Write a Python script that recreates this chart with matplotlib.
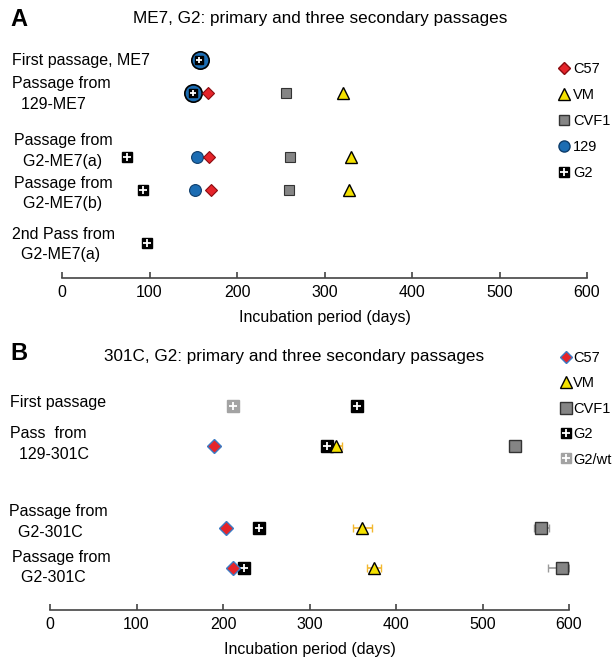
import numpy as np
import matplotlib
matplotlib.use("Agg")
import matplotlib.pyplot as plt
from matplotlib.lines import Line2D
from matplotlib.transforms import blended_transform_factory

plt.rcParams["font.family"] = ["Liberation Sans", "DejaVu Sans"]

nan = np.nan

# ---- panel A: ME7 ----
A_rows = ["First passage, ME7", "Passage from\n  129-ME7", "Passage from\n  G2-ME7(a)",
          "Passage from\n  G2-ME7(b)", "2nd Pass from\n  G2-ME7(a)"]
A_c57 = [nan, 167, 168, 170, nan]
A_vm = [nan, 321, 330, 328, nan]
A_cvf1 = [nan, 256, 261, 259, nan]
A_129 = [158, 150, 154, 152, nan]
A_g2 = [157, 150, 74, 93, 97]

# ---- panel B: 301C ----
B_rows = ["First passage", "Pass  from\n  129-301C", "Passage from\n  G2-301C",
          "Passage from\n  G2-301C"]
B_c57 = [nan, 190, 204, 212]
B_vm = [nan, 331, 361, 374]
B_vm_lo = [0, 0, 11, 8]
B_vm_hi = [0, 7, 11, 9]
B_cvf1 = [nan, 537, 568, 592]
B_cvf1_lo = [0, 0, 9, 16]
B_cvf1_hi = [0, 0, 9, 8]
B_g2 = [355, 320, 242, 224]
B_g2wt = [212, nan, nan, nan]

# layout (vertical slot of each row / label, in row units)
A_pos = [0, 1, 2.94, 3.94, 5.55]
A_lab_pos = [0, 1.03, 2.76, 4.05, 5.59]
A_lab_x = [12, 12, 14, 14, 12]
B_pos = [0, 1, 3.05, 4.05]
B_lab_pos = [-0.1, 0.95, 2.9, 4.04]
B_lab_x = [10, 10, 9, 12]

RED = "#e5242a"
YEL = "#f4e100"
GRAY = "#858585"
BLUE = "#1c6db3"
ERRY = "#f3b830"

W, H = 614, 661
fig = plt.figure(figsize=(W / 100, H / 100), dpi=100)


def px_axes(x0, x1, y_top, y_bot):
    return fig.add_axes([x0 / W, 1 - y_bot / H, (x1 - x0) / W, (y_bot - y_top) / H])


def g2(ax, x, y, ms=7, face="black", z=4):
    ax.plot(x, y, "s", ms=ms, mfc=face, mec=face, ls="none", zorder=z)
    ax.plot(x, y, "+", ms=ms * 0.8, mew=1.3, color="white", ls="none", zorder=z + 0.1)


def style_axis(ax, ylim):
    ax.set_xlim(0, 600)
    ax.set_ylim(*ylim)
    for s in ("top", "right", "left"):
        ax.spines[s].set_visible(False)
    ax.spines["bottom"].set_color("#444444")
    ax.spines["bottom"].set_linewidth(1.2)
    ax.set_yticks([])
    ax.set_xticks(range(0, 601, 100))
    ax.tick_params(axis="x", direction="in", length=4, width=1.2, color="#444444",
                   labelsize=11.5, pad=5)
    ax.set_xlabel("Incubation period (days)", fontsize=11.5, labelpad=7)
    ax.patch.set_alpha(0)


# ================= Panel A =================
axA = px_axes(62, 587, 45, 278)
style_axis(axA, ((278 - 60) / 33, (45 - 60) / 33))
y = np.array(A_pos)
big = np.array([True, True, False, False, False])
axA.plot(np.array(A_129)[big], y[big], "o", ms=12.5, mfc=BLUE, mec="black", mew=1.2, ls="none", zorder=3)
axA.plot(np.array(A_129)[~big], y[~big], "o", ms=8.5, mfc=BLUE, mec="#0d3d6b", mew=0.8, ls="none", zorder=3)
g2(axA, A_g2[:2], y[:2], ms=5.5)
g2(axA, A_g2[2:], y[2:], ms=7)
axA.plot(A_c57, y, "D", ms=6.5, mfc=RED, mec="#8a0c10", mew=0.8, ls="none", zorder=5)
axA.plot(A_cvf1, y, "s", ms=6.5, mfc=GRAY, mec="#333333", mew=0.8, ls="none", zorder=5)
axA.plot(A_vm, y, "^", ms=9, mfc=YEL, mec="black", mew=1.0, ls="none", zorder=5)

trA = blended_transform_factory(fig.transFigure, axA.transData)
for lab, p, lx in zip(A_rows, A_lab_pos, A_lab_x):
    axA.text(lx / W, p, lab, transform=trA, ha="left", va="center", fontsize=11.5,
             linespacing=1.45)

fig.text(10 / W, 1 - 19 / H, "A", fontsize=17, fontweight="bold", ha="left", va="center")
fig.text(320 / W, 1 - 19 / H, "ME7, G2: primary and three secondary passages", fontsize=12.3,
         ha="center", va="center")

hA = [Line2D([], [], marker="D", ms=6.5, mfc=RED, mec="#8a0c10", ls="none"),
      Line2D([], [], marker="^", ms=8, mfc=YEL, mec="black", ls="none"),
      Line2D([], [], marker="s", ms=6.5, mfc=GRAY, mec="#333333", ls="none"),
      Line2D([], [], marker="o", ms=8, mfc=BLUE, mec="#0d3d6b", ls="none"),
      (Line2D([], [], marker="s", ms=7, mfc="black", mec="black", ls="none"),
       Line2D([], [], marker="+", ms=5.6, mew=1.3, color="white", ls="none"))]
fig.legend(hA, ["C57", "VM", "CVF1", "129", "G2"], loc="upper left",
           bbox_to_anchor=(557 / W, 1 - 62 / H), frameon=False, fontsize=10.5,
           handlelength=0.9, handletextpad=0.2, labelspacing=0.82, borderaxespad=0, borderpad=0)

# ================= Panel B =================
axB = px_axes(50, 569, 385, 610)
style_axis(axB, ((610 - 406) / 40, (385 - 406) / 40))
y = np.array(B_pos)
g2(axB, B_g2wt, y, ms=8, face="#a3a3a3")
g2(axB, B_g2, y, ms=8)
axB.plot(B_c57, y, "D", ms=7.5, mfc=RED, mec="#3b7cc4", mew=1.0, ls="none", zorder=5)
axB.errorbar(B_vm, y, xerr=[B_vm_lo, B_vm_hi], fmt="^", ms=9, mfc=YEL, mec="black", mew=1.0,
             ecolor=ERRY, elinewidth=1.2, capsize=3, zorder=6)
axB.errorbar(B_cvf1, y, xerr=[B_cvf1_lo, B_cvf1_hi], fmt="s", ms=9, mfc=GRAY, mec="#333333",
             mew=1.0, ecolor="#9a9a9a", elinewidth=1.2, capsize=3, zorder=5)

trB = blended_transform_factory(fig.transFigure, axB.transData)
for lab, p, lx in zip(B_rows, B_lab_pos, B_lab_x):
    axB.text(lx / W, p, lab, transform=trB, ha="left", va="center", fontsize=11.5,
             linespacing=1.45)

fig.text(10 / W, 1 - 354 / H, "B", fontsize=17, fontweight="bold", ha="left", va="center")
fig.text(294 / W, 1 - 356 / H, "301C, G2: primary and three secondary passages", fontsize=12.3,
         ha="center", va="center")

hB = [Line2D([], [], marker="D", ms=6, mfc=RED, mec="#3b7cc4", ls="none"),
      Line2D([], [], marker="^", ms=8, mfc=YEL, mec="black", ls="none"),
      Line2D([], [], marker="s", ms=8, mfc=GRAY, mec="#333333", ls="none"),
      (Line2D([], [], marker="s", ms=7, mfc="black", mec="black", ls="none"),
       Line2D([], [], marker="+", ms=5.6, mew=1.3, color="white", ls="none")),
      (Line2D([], [], marker="s", ms=7, mfc="#a3a3a3", mec="#a3a3a3", ls="none"),
       Line2D([], [], marker="+", ms=5.6, mew=1.3, color="white", ls="none"))]
fig.legend(hB, ["C57", "VM", "CVF1", "G2", "G2/wt"], loc="upper left",
           bbox_to_anchor=(560 / W, 1 - 351 / H), frameon=False, fontsize=10.5,
           handlelength=0.8, handletextpad=0.12, labelspacing=0.78, borderaxespad=0, borderpad=0)

fig.savefig("out.png", dpi=100)
